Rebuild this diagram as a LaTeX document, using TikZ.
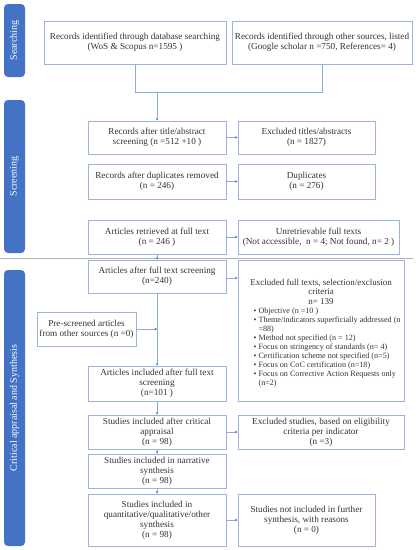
\documentclass[tikz,border=0pt]{standalone}
\usepackage{fontspec}
\setmainfont{Liberation Serif}
\usetikzlibrary{arrows.meta}
\definecolor{barblue}{HTML}{4472C4}
\definecolor{boxline}{HTML}{9DB3DF}
\definecolor{conn}{HTML}{8FAADC}
\definecolor{txt}{HTML}{333333}
\tikzset{
  x=1pt,y=-1pt,
  box/.style={draw=boxline,line width=0.8pt,inner sep=1pt,align=center,font=\fontsize{9.2}{10}\selectfont,text=txt},
  bartext/.style={rotate=90,text=white,font=\fontsize{10}{12}\selectfont},
  link/.style={draw=conn,line width=0.6pt,-{Stealth[length=2.5pt,width=2.5pt,color=barblue]}},
  plain/.style={draw=conn,line width=0.6pt}
}
\newcommand{\bx}[7]{\node[box,minimum width=#4pt,minimum height=#5pt] (#1) at (#2,#3) {#6#7};}
\begin{document}
\begin{tikzpicture}
\useasboundingbox (0,0) rectangle (418,550);
% side bars
\fill[barblue,rounded corners=4pt] (4,4) rectangle (25,77);
\node[bartext] (s1) at (14.5,40.5) {Searching};
\fill[barblue,rounded corners=4pt] (4,100) rectangle (25,253);
\node[bartext] (s2) at (14.5,176.5) {Screening};
\fill[barblue,rounded corners=4pt] (4,270) rectangle (25,546);
\node[bartext] (s3) at (14.5,408) {Critical appraisal and Synthesis};
% separator
\draw[color=black!30,line width=0.7pt] (0,258) -- (413,258);
% boxes
\bx{b1}{135}{42.5}{182}{43}{Records identified through database searching\\(WoS \& Scopus n=1595 )}{}
\bx{b2}{322}{42.5}{180}{43}{Records identified through other sources, listed\\(Google scholar n =750, References= 4)}{}
\bx{r1}{157}{137.5}{138}{33}{Records after title/abstract\\screening (n =512 +10 )}{}
\bx{e1}{306.5}{137.5}{137}{33}{Excluded titles/abstracts\\(n = 1827)}{}
\bx{r2}{157}{181.5}{138}{35}{Records after duplicates removed\\(n = 246)}{}
\bx{e2}{306.5}{181.5}{137}{35}{Duplicates\\(n = 276)}{}
\bx{r3}{157}{237}{138}{34}{Articles retrieved at full text\\(n = 246 )}{}
\bx{e3}{318.5}{237}{161}{34}{Unretrievable full texts\\(Not accessible,\ \ n = 4; Not found, n= 2 )}{}
\bx{r4}{157}{276.5}{138}{33}{Articles after full text screening\\(n=240)}{}
\node[draw=boxline,line width=0.8pt,minimum width=166pt,minimum height=141pt,inner sep=0pt] (e4) at (321,330.5) {};
\node[align=center,font=\fontsize{9}{9.6}\selectfont,text=txt,anchor=north,inner sep=0pt] (e4t) at (321,278.5) {Excluded full texts, selection/exclusion\\criteria\\n= 139};
\node[align=left,font=\fontsize{8.1}{9}\selectfont,text=txt,anchor=north west,inner sep=0pt] (e4l) at (253.5,307.5) {%
\textbullet\ Objective (n =10 )\\
\textbullet\ Theme/indicators superficially addressed (n\\
\phantom{\textbullet\ }=88)\\
\textbullet\ Method not specified (n = 12)\\
\textbullet\ Focus on stringency of standards (n= 4)\\
\textbullet\ Certification scheme not specified (n=5)\\
\textbullet\ Focus on CoC certification (n=18)\\
\textbullet\ Focus on Corrective Action Requests only\\
\phantom{\textbullet\ }(n=2)};
\bx{pre}{86.5}{329}{99}{34}{Pre-screened articles\\from other sources (n =0)}{}
\bx{r5}{157}{383.5}{138}{35}{Articles included after full text\\screening\\(n=101 )}{}
\bx{r6}{157}{432}{138}{34}{Studies included after critical\\appraisal\\(n = 98)}{}
\bx{e6}{321}{432}{166}{34}{Excluded studies, based on eligibility\\criteria per indicator\\(n =3)}{}
\bx{r7}{157}{471}{138}{34}{Studies included in narrative\\synthesis\\(n = 98)}{}
\bx{r8}{157}{520}{138}{52}{Studies included in\\quantitative/qualitative/other\\synthesis\\(n = 98)}{}
\bx{e8}{306.5}{520}{137}{52}{Studies not included in further\\synthesis, with reasons\\(n = 0)}{}
% connectors
\coordinate (m1) at (135,92);
\coordinate (m2) at (322,92);
\coordinate (m0) at (157,92);
\coordinate (j) at (157,329);
\draw[plain] (b1.south) -- (m1) -- (m2) -- (b2.south);
\draw[link] (m0) -- (r1.north);
\draw[link] (r1.east) -- (e1.west);
\draw[link] (r2.east) -- (e2.west);
\draw[link] (r3.east) -- (e3.west);
\draw[link] (r3.south) -- (r4.north);
\draw[link] (r4.east |- 0,278) -- (e4.west |- 0,278);
\draw[link] (r4.south) -- (r5.north);
\draw[link] (pre.east) -- (j);
\draw[link] (r5.south) -- (r6.north);
\draw[link] (r6.east) -- (e6.west);
\draw[link] (r6.south) -- (r7.north);
\draw[link] (r7.south) -- (r8.north);
\draw[link] (r8.east) -- (e8.west);
\end{tikzpicture}
\end{document}
